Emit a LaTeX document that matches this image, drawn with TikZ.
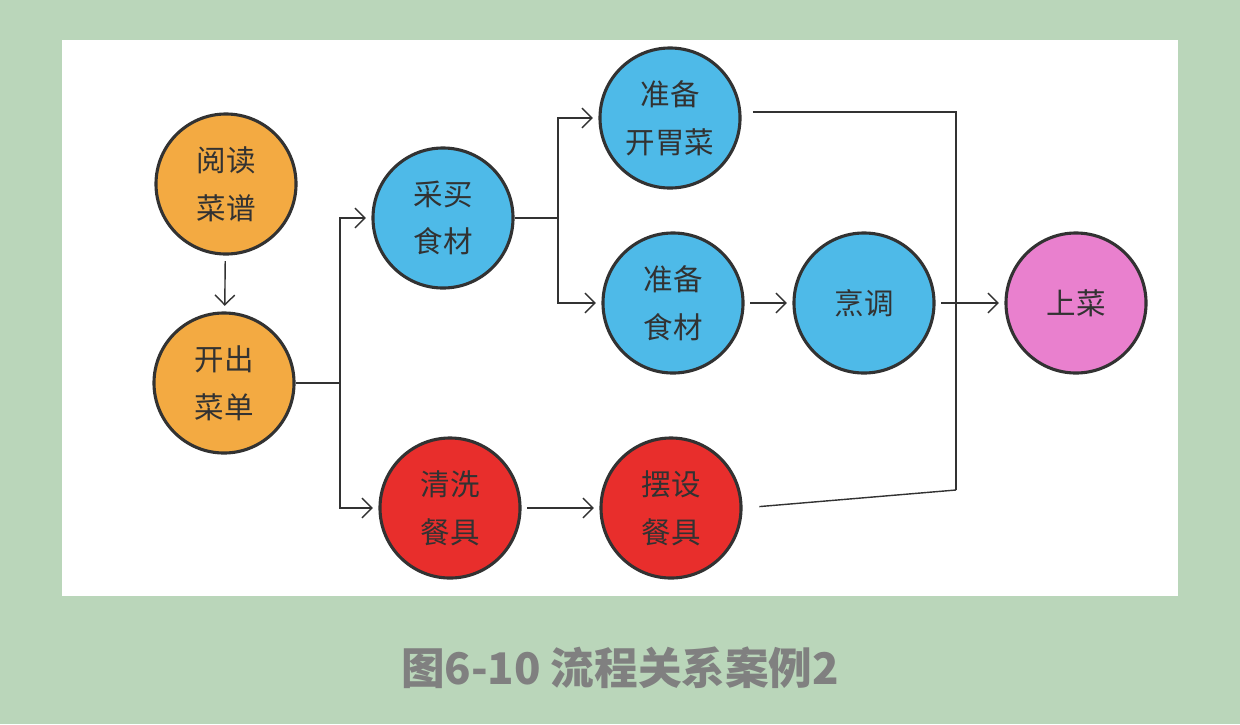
\documentclass[tikz,border=0pt]{standalone}
\usepackage{fontspec}
\newfontfamily\cjk{Noto Sans CJK SC}
\usetikzlibrary{positioning,arrows.meta}
\definecolor{PageGreen}{RGB}{186,214,186}
\definecolor{CookOrange}{RGB}{243,170,66}
\definecolor{CookBlue}{RGB}{78,186,232}
\definecolor{CookRed}{RGB}{232,46,44}
\definecolor{CookPink}{RGB}{233,128,206}
\definecolor{InkGray}{RGB}{50,50,50}
\definecolor{CapGray}{RGB}{128,128,128}
\tikzset{
  stepnode/.style={circle, draw=InkGray, line width=2.2pt, minimum size=3.5cm, inner sep=0pt,
    align=center, font=\cjk\fontsize{21}{34}\selectfont, text=InkGray},
  planstep/.style={stepnode, fill=CookOrange},
  foodstep/.style={stepnode, fill=CookBlue},
  dishstep/.style={stepnode, fill=CookRed},
  servestep/.style={stepnode, fill=CookPink},
  link/.style={line width=1pt, InkGray},
  flow/.style={link, -{Straight Barb[length=7pt,width=14pt]}, shorten >=4pt, shorten <=4pt},
  caption/.style={font=\cjk\bfseries\fontsize{31}{36}\selectfont, text=CapGray},
}
\begin{document}
\begin{tikzpicture}[x=0.025cm, y=-0.025cm]
  % page and sheet
  \fill[PageGreen] (0,0) rectangle (1240,724);
  \fill[white] (62,40) rectangle (1178,596);
  % steps
  \node[planstep] (recipe) at (226,184) {阅读\\菜谱};
  \node[planstep] (menu) at (224,383) {开出\\菜单};
  \node[foodstep] (buy) at (443,218) {采买\\食材};
  \node[foodstep] (starter) at (670,118) {准备\\开胃菜};
  \node[foodstep] (prep) at (673,303) {准备\\食材};
  \node[foodstep] (cook) at (864,303) {烹调};
  \node[servestep] (serve) at (1076,303) {上菜};
  \node[dishstep] (wash) at (450,508) {清洗\\餐具};
  \node[dishstep] (lay) at (671,508) {摆设\\餐具};
  % forks and joins
  \coordinate (forkA) at (340,383);
  \coordinate (forkB) at (558,218);
  \coordinate (joinT) at (956,112);
  \coordinate (joinB) at (956,490);
  % connectors
  \draw[flow] (recipe) -- (menu);
  \draw[link] (menu.east) -- (forkA);
  \draw[flow, shorten <=0pt] (forkA) |- (buy.west);
  \draw[flow, shorten <=0pt] (forkA) |- (wash.west);
  \draw[link] (buy.east) -- (forkB);
  \draw[flow, shorten <=0pt] (forkB) |- (starter.west);
  \draw[flow, shorten <=0pt] (forkB) |- (prep.west);
  \draw[flow] (prep) -- (cook);
  \draw[flow] (wash) -- (lay);
  \draw[link, shorten <=8pt] (starter.east |- joinT) -- (joinT) -- (joinB);
  \draw[link, shorten <=12pt] (lay.east) -- (joinB);
  \draw[flow] (cook) -- (serve);
  % caption
  \node[caption] (title) at (620,668) {图6-10 流程关系案例2};
\end{tikzpicture}
\end{document}
